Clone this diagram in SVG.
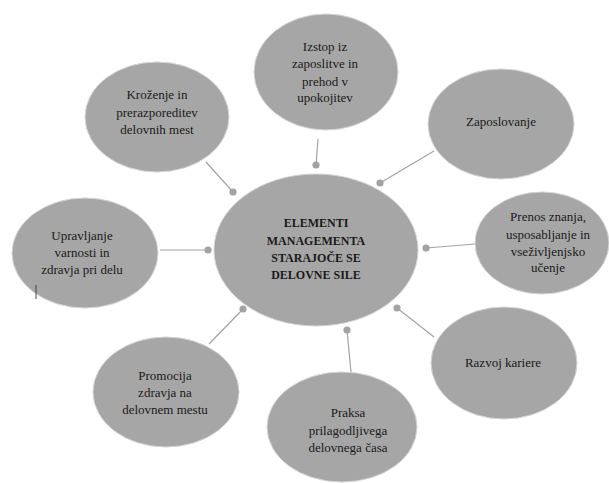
<svg xmlns="http://www.w3.org/2000/svg" width="609" height="483" viewBox="0 0 609 483">
<style>
.n{fill:#a6a6a6;stroke:#d4d4d4;stroke-width:1}
.t{font-family:'Liberation Serif','Tinos','DejaVu Serif','Noto Serif',serif;font-size:13px;fill:#1a1a1a;text-anchor:middle}
.c{font-weight:bold;font-size:12px}
.l{stroke:#a3a3a3;stroke-width:1.2;fill:none}
.d{fill:#a3a3a3}
</style>
<rect width="609" height="483" fill="#ffffff"/>
<g id="connectors">
<line class="l" x1="316" y1="165" x2="318" y2="139"/>
<circle class="d" cx="316" cy="165" r="3.6"/>
<line class="l" x1="233" y1="192" x2="206" y2="162"/>
<circle class="d" cx="233" cy="192" r="3.6"/>
<line class="l" x1="380" y1="183" x2="434" y2="151"/>
<circle class="d" cx="380" cy="183" r="3.6"/>
<line class="l" x1="208" y1="250" x2="160" y2="250"/>
<circle class="d" cx="208" cy="250" r="3.6"/>
<line class="l" x1="426" y1="248" x2="475" y2="244"/>
<circle class="d" cx="426" cy="248" r="3.6"/>
<line class="l" x1="397" y1="308" x2="434" y2="337"/>
<circle class="d" cx="397" cy="308" r="3.6"/>
<line class="l" x1="347" y1="330" x2="351" y2="372"/>
<circle class="d" cx="347" cy="330" r="3.6"/>
<line class="l" x1="243" y1="309" x2="209" y2="344"/>
<circle class="d" cx="243" cy="309" r="3.6"/>
</g>
<g id="center">
<ellipse class="n" cx="316" cy="250" rx="102" ry="76"/>
<text class="t c" x="316" y="227">ELEMENTI</text>
<text class="t c" x="316" y="245">MANAGEMENTA</text>
<text class="t c" x="316" y="262">STARAJOČE SE</text>
<text class="t c" x="316" y="279">DELOVNE SILE</text>
</g>
<g id="izstop">
<ellipse class="n" cx="326" cy="72" rx="72" ry="58"/>
<text class="t" x="325" y="51">Izstop iz</text>
<text class="t" x="325" y="68">zaposlitve in</text>
<text class="t" x="325" y="86">prehod v</text>
<text class="t" x="325" y="102">upokojitev</text>
</g>
<g id="krozenje">
<ellipse class="n" cx="157" cy="117" rx="72" ry="55"/>
<text class="t" x="157" y="99">Kroženje in</text>
<text class="t" x="157" y="117">prerazporeditev</text>
<text class="t" x="157" y="134">delovnih mest</text>
</g>
<g id="zaposlovanje">
<ellipse class="n" cx="501" cy="124" rx="73" ry="55"/>
<text class="t" x="501" y="126">Zaposlovanje</text>
</g>
<g id="prenos">
<ellipse class="n" cx="542" cy="243" rx="67" ry="51"/>
<text class="t" x="548" y="221">Prenos znanja,</text>
<text class="t" x="548" y="239">usposabljanje in</text>
<text class="t" x="548" y="256">vseživljenjsko</text>
<text class="t" x="548" y="272">učenje</text>
</g>
<g id="razvoj">
<ellipse class="n" cx="504" cy="363" rx="73" ry="56"/>
<text class="t" x="503" y="367">Razvoj kariere</text>
</g>
<g id="praksa">
<ellipse class="n" cx="342" cy="427" rx="75" ry="55"/>
<text class="t" x="348" y="417">Praksa</text>
<text class="t" x="348" y="435">prilagodljivega</text>
<text class="t" x="348" y="452">delovnega časa</text>
</g>
<g id="promocija">
<ellipse class="n" cx="166" cy="392" rx="73" ry="55"/>
<text class="t" x="165" y="380">Promocija</text>
<text class="t" x="165" y="397">zdravja na</text>
<text class="t" x="165" y="414">delovnem mestu</text>
</g>
<g id="upravljanje">
<ellipse class="n" cx="85" cy="253" rx="73" ry="55"/>
<text class="t" x="82" y="240">Upravljanje</text>
<text class="t" x="82" y="257">varnosti in</text>
<text class="t" x="82" y="274">zdravja pri delu</text>
<line x1="36" y1="285" x2="36" y2="299" stroke="#444444" stroke-width="1"/>
</g>
</svg>
